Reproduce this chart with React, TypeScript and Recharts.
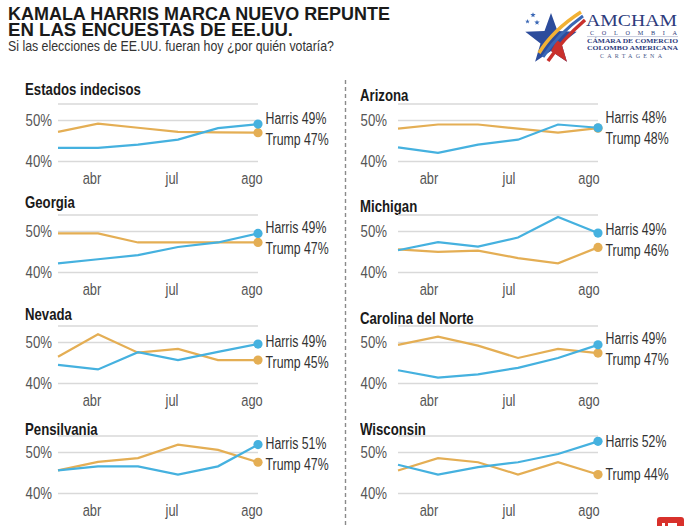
import React from 'react';
import { LineChart, Line, XAxis, YAxis, CartesianGrid } from 'recharts';

// poll periods (6 readings), only three of them carry a month label
const periods = [0, 1, 2, 3, 4, 5];
const monthTicks = [1, 3, 5];
const monthNames = ['abr', 'jul', 'ago'];
const yTicks = [40, 45, 50];

const states = [
  'Estados indecisos',
  'Arizona',
  'Georgia',
  'Michigan',
  'Nevada',
  'Carolina del Norte',
  'Pensilvania',
  'Wisconsin',
];

const harrisIndecisos = [43.3, 43.3, 44.1, 45.3, 48.1, 49.1];
const trumpIndecisos = [47.2, 49.2, 48.2, 47.2, 47.1, 47.0];
const harrisArizona = [43.4, 42.1, 44.1, 45.3, 49.0, 48.2];
const trumpArizona = [48.0, 49.0, 49.0, 48.0, 47.0, 48.1];
const harrisGeorgia = [42.2, 43.2, 44.2, 46.2, 47.3, 49.5];
const trumpGeorgia = [49.5, 49.5, 47.3, 47.3, 47.3, 47.3];
const harrisMichigan = [45.4, 47.4, 46.3, 48.5, 53.5, 49.6];
const trumpMichigan = [45.6, 45.0, 45.3, 43.5, 42.2, 46.1];
const harrisNevada = [44.5, 43.4, 47.6, 45.7, 47.7, 49.6];
const trumpNevada = [46.5, 52.0, 47.5, 48.4, 45.7, 45.7];
const harrisCarolina = [43.2, 41.4, 42.2, 43.8, 46.2, 49.4];
const trumpCarolina = [49.4, 51.4, 49.2, 46.2, 48.4, 47.4];
const harrisPensilvania = [45.6, 46.6, 46.6, 44.6, 46.6, 51.9];
const trumpPensilvania = [45.6, 47.7, 48.6, 51.9, 50.6, 47.6];
const harrisWisconsin = [47.0, 44.6, 46.4, 47.6, 49.6, 52.7];
const trumpWisconsin = [45.6, 48.6, 47.6, 44.6, 47.6, 44.6];

const harrisSeries = [harrisIndecisos, harrisArizona, harrisGeorgia, harrisMichigan, harrisNevada, harrisCarolina, harrisPensilvania, harrisWisconsin];
const trumpSeries = [trumpIndecisos, trumpArizona, trumpGeorgia, trumpMichigan, trumpNevada, trumpCarolina, trumpPensilvania, trumpWisconsin];
const harrisFinal = [49, 48, 49, 49, 49, 49, 51, 52];
const trumpFinal = [47, 48, 47, 46, 45, 47, 47, 44];

const BLUE = '#45b1df';
const GOLD = '#e4ae54';
const SANS = '"Liberation Sans", Arial, sans-serif';
const SERIF = '"Liberation Serif", serif';

const PX_PER_PCT = 4.1;
const Y_MIN = 40;
const Y_MAX = 54;
const PLOT_H = (Y_MAX - Y_MIN) * PX_PER_PCT;
const M_TOP = 10;
const X_AXIS_H = 30;
const CHART_H = M_TOP + PLOT_H + X_AXIS_H;
const CHART_W = 345;
const PLOT_W = 200;
const MIN_LABEL_GAP = 21;

// layout of the 2x4 grid
const rowY50 = [120, 231.5, 342, 452.7];
const colLeft = [0, 345];
const colPlotLeft = [58, 398];
const colTitleX = [25, 360];
const colTickMargin = [0, 5];
const colTickDx = [-6, -9];
const titleY = [
  [89, 202.7, 314, 429],
  [95.3, 205.8, 318, 429],
];

const YTick = (props: any) => {
  const { x, y, payload } = props;
  return (
    <text
      transform={`translate(${x},${y}) scale(0.8,1)`}
      textAnchor="end"
      dy="0.36em"
      fill="#555"
      fontSize={16.5}
      fontFamily={SANS}
    >
      {`${payload.value}%`}
    </text>
  );
};

const makeXTick = (dx: number) => (props: any) => {
  const { x, y, payload } = props;
  return (
    <text
      transform={`translate(${x + dx},${y}) scale(0.78,1)`}
      textAnchor="middle"
      dy="0.68em"
      fill="#555"
      fontSize={16.5}
      fontFamily={SANS}
    >
      {monthNames[monthTicks.indexOf(payload.value)]}
    </text>
  );
};

type PanelProps = { idx: number };

const Panel = ({ idx }: PanelProps) => {
  const col = idx % 2;
  const row = Math.floor(idx / 2);
  const harris = harrisSeries[idx];
  const trump = trumpSeries[idx];
  const data = periods.map((p, i) => ({ p, harris: harris[i], trump: trump[i] }));
  const last = periods.length - 1;
  const gap = (harris[last] - trump[last]) * PX_PER_PCT;
  const shift = gap < MIN_LABEL_GAP ? (MIN_LABEL_GAP - gap) / 2 : 0;
  const yAxisW = colPlotLeft[col] - colLeft[col];
  const top = rowY50[row] - (Y_MAX - 50) * PX_PER_PCT - M_TOP;

  const makeDot = (color: string, text: string, offset: number) => (props: any) => {
    const { cx, cy, index } = props;
    if (index !== last) return <g key={`d-${index}`} />;
    return (
      <g key={`end-${index}`}>
        <circle cx={cx} cy={cy} r={4.6} fill={color} />
        <text
          transform={`translate(${cx + 7.5},${cy + offset}) scale(0.77,1)`}
          dy="0.36em"
          fill="#333"
          fontSize={16}
          fontFamily={SANS}
        >
          {text}
        </text>
      </g>
    );
  };

  return (
    <>
      <div
        style={{
          position: 'absolute',
          left: colTitleX[col],
          top: titleY[col][row] - 8.3,
          fontFamily: SANS,
          fontWeight: 'bold',
          fontSize: 16.5,
          lineHeight: '16.5px',
          color: '#1a1a1a',
          whiteSpace: 'nowrap',
          transform: 'scaleX(0.8)',
          transformOrigin: 'left center',
        }}
      >
        {states[idx]}
      </div>
      <div style={{ position: 'absolute', left: colLeft[col], top }}>
        <LineChart
          width={CHART_W}
          height={CHART_H}
          data={data}
          margin={{ top: M_TOP, right: CHART_W - yAxisW - PLOT_W, bottom: 0, left: 0 }}
        >
          <CartesianGrid vertical={false} stroke="#d9d9d9" strokeWidth={1.5} />
          <XAxis
            type="number"
            dataKey="p"
            domain={[0, 5]}
            ticks={monthTicks}
            axisLine={false}
            tickLine={false}
            height={X_AXIS_H}
            tickMargin={5}
            tick={makeXTick(colTickDx[col])}
          />
          <YAxis
            type="number"
            domain={[Y_MIN, Y_MAX]}
            ticks={yTicks}
            axisLine={false}
            tickLine={false}
            width={yAxisW}
            tickMargin={colTickMargin[col]}
            tick={<YTick />}
          />
          <Line
            type="linear"
            dataKey="trump"
            stroke={GOLD}
            strokeWidth={2.2}
            dot={makeDot(GOLD, `Trump ${trumpFinal[idx]}%`, shift)}
            activeDot={false}
            isAnimationActive={false}
          />
          <Line
            type="linear"
            dataKey="harris"
            stroke={BLUE}
            strokeWidth={2.2}
            dot={makeDot(BLUE, `Harris ${harrisFinal[idx]}%`, -shift)}
            activeDot={false}
            isAnimationActive={false}
          />
        </LineChart>
      </div>
    </>
  );
};

const starPoints = (cx: number, cy: number, R: number, r: number) => {
  const pts: string[] = [];
  for (let i = 0; i < 10; i++) {
    const a = (-90 + i * 36) * (Math.PI / 180);
    const rad = i % 2 === 0 ? R : r;
    pts.push(`${(cx + rad * Math.cos(a)).toFixed(1)},${(cy + rad * Math.sin(a)).toFixed(1)}`);
  }
  return pts.join(' ');
};

const Logo = () => (
  <g>
    <polygon points={starPoints(551, 40, 27, 11)} fill="#2c4c9c" />
    <polygon points="551,51 566.9,61.8 561.5,43.4 557,40" fill="#c9302c" />
    <path d="M539 53 Q553 30 581 12" stroke="#f2b134" strokeWidth={3.5} fill="none" />
    <path d="M543 57 Q558 34 583 16" stroke="#3a67b5" strokeWidth={3} fill="none" />
    <path d="M548 61 Q563 39 585 20" stroke="#c9302c" strokeWidth={3.5} fill="none" />
    <polygon points={starPoints(533, 15, 2.8, 1.2)} fill="#3a67b5" />
    <polygon points={starPoints(527.5, 21.5, 2.4, 1)} fill="#3a67b5" />
    <polygon points={starPoints(537, 22.5, 2.8, 1.2)} fill="#3a67b5" />
    <text x={586} y={25.5} fontFamily={SERIF} fontSize={16.5} fill="#2d3b7c" textLength={91} lengthAdjust="spacingAndGlyphs">
      AMCHAM
    </text>
    <text x={590} y={35.2} fontFamily={SERIF} fontSize={6.2} fill="#2d3b7c" textLength={87} lengthAdjust="spacing">
      COLOMBIA
    </text>
    <line x1={587} y1={36.6} x2={678} y2={36.6} stroke="#b5bad0" strokeWidth={0.8} />
    <text x={587} y={43.2} fontFamily={SERIF} fontSize={6} fontWeight="bold" fill="#2d3b7c" textLength={91} lengthAdjust="spacingAndGlyphs">
      CÁMARA DE COMERCIO
    </text>
    <text x={587} y={50} fontFamily={SERIF} fontSize={6} fontWeight="bold" fill="#2d3b7c" textLength={91} lengthAdjust="spacingAndGlyphs">
      COLOMBO AMERICANA
    </text>
    <text x={600} y={57.8} fontFamily={SERIF} fontSize={6} fill="#4a5a8a" textLength={62} lengthAdjust="spacing">
      CARTAGENA
    </text>
  </g>
);

export default function App() {
  return (
    <div
      style={{
        position: 'absolute',
        left: 0,
        top: 0,
        width: 700,
        height: 526,
        background: '#fff',
        overflow: 'hidden',
      }}
    >
      <svg width={700} height={526} style={{ position: 'absolute', left: 0, top: 0, pointerEvents: 'none' }}>
        <text x={8} y={20} fontFamily={SANS} fontWeight="bold" fontSize={17.5} fill="#1a1a1a" textLength={382} lengthAdjust="spacingAndGlyphs">
          KAMALA HARRIS MARCA NUEVO REPUNTE
        </text>
        <text x={8} y={35.7} fontFamily={SANS} fontWeight="bold" fontSize={17.5} fill="#1a1a1a" textLength={285} lengthAdjust="spacingAndGlyphs">
          EN LAS ENCUESTAS DE EE.UU.
        </text>
        <text x={8} y={50.5} fontFamily={SANS} fontSize={14.5} fill="#333" textLength={326} lengthAdjust="spacingAndGlyphs">
          Si las elecciones de EE.UU. fueran hoy ¿por quién votaría?
        </text>
        <line x1={345.5} y1={80} x2={345.5} y2={526} stroke="#8a8a8a" strokeWidth={1.4} strokeDasharray="4 3" />
        <Logo />
        <rect x={657} y={517} width={27} height={14} rx={3} fill="#d8312b" />
        <rect x={662} y={523} width={3} height={4} fill="#fff" />
        <rect x={668} y={523} width={9} height={4} fill="#fff" />
      </svg>

      {states.map((s, i) => (
        <Panel key={s} idx={i} />
      ))}
    </div>
  );
}
